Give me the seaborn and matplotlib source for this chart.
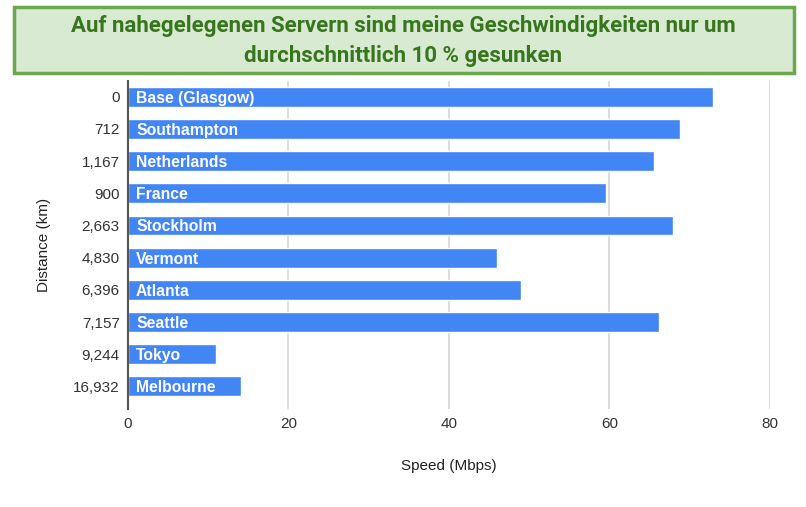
import matplotlib
matplotlib.use("Agg")
import matplotlib.pyplot as plt
import seaborn as sns
import pandas as pd
from matplotlib.patches import FancyBboxPatch

distances = ["0", "712", "1,167", "900", "2,663", "4,830", "6,396", "7,157", "9,244", "16,932"]
servers = ["Base (Glasgow)", "Southampton", "Netherlands", "France", "Stockholm",
           "Vermont", "Atlanta", "Seattle", "Tokyo", "Melbourne"]
speeds = [72.9, 68.8, 65.5, 59.6, 67.9, 46.0, 49.0, 66.2, 11.0, 14.1]
x_ticks = [0, 20, 40, 60, 80]

title = "Auf nahegelegenen Servern sind meine Geschwindigkeiten nur um\ndurchschnittlich 10 % gesunken"

df = pd.DataFrame({"Distance": distances, "Server": servers, "Speed": speeds})

sns.set_theme(style="white")
plt.rcParams['font.family'] = ['Liberation Sans', 'DejaVu Sans']

fig = plt.figure(figsize=(8.06, 5.07), dpi=100)
ax = fig.add_axes([0.1588, 0.1933, 0.7965, 0.6477])

sns.barplot(data=df, x="Speed", y="Distance", order=distances, orient="h",
            color="#4285F4", saturation=1, width=0.62, ax=ax, zorder=3)

ax.set_xlim(0, 80)
ax.set_ylim(9.7, -0.5)
ax.set_xticks(x_ticks)
ax.set_xticklabels([str(t) for t in x_ticks], fontsize=11, color="#333333")
ax.tick_params(axis="y", labelsize=11, labelcolor="#333333", length=0, pad=6)
ax.tick_params(axis="x", length=0, pad=6)
for t in x_ticks[1:]:
    ax.axvline(t, color="#d6d6d6", lw=1.2, zorder=1)
for s in ["top", "right", "bottom"]:
    ax.spines[s].set_visible(False)
ax.spines["left"].set_color("#555555")
ax.spines["left"].set_linewidth(1.5)
ax.spines["left"].set_zorder(5)

for p, name in zip(ax.patches, servers):
    y = p.get_y() + p.get_height() / 2
    ax.text(1.0, y, name, color="white", fontsize=11.3, fontweight="bold",
            va="center_baseline", ha="left", zorder=6)

ax.set_xlabel("Speed (Mbps)", fontsize=11, color="#222222", labelpad=20)
ax.set_ylabel("Distance (km)", fontsize=11, color="#222222", labelpad=16)

box = FancyBboxPatch((14 / 806, 1 - 73 / 507), 780 / 806, 66 / 507,
                     boxstyle="square,pad=0", transform=fig.transFigure,
                     facecolor="#d9ead3", edgecolor="#6aa84f", linewidth=2.5,
                     zorder=10)
fig.patches.append(box)
fig.text(0.5, 1 - 41 / 507, title, ha="center", va="center", fontsize=16,
         fontweight="bold", color="#38761d", family=["Roboto", "DejaVu Sans"],
         linespacing=1.45, zorder=11)

fig.savefig("out.png", dpi=100)
